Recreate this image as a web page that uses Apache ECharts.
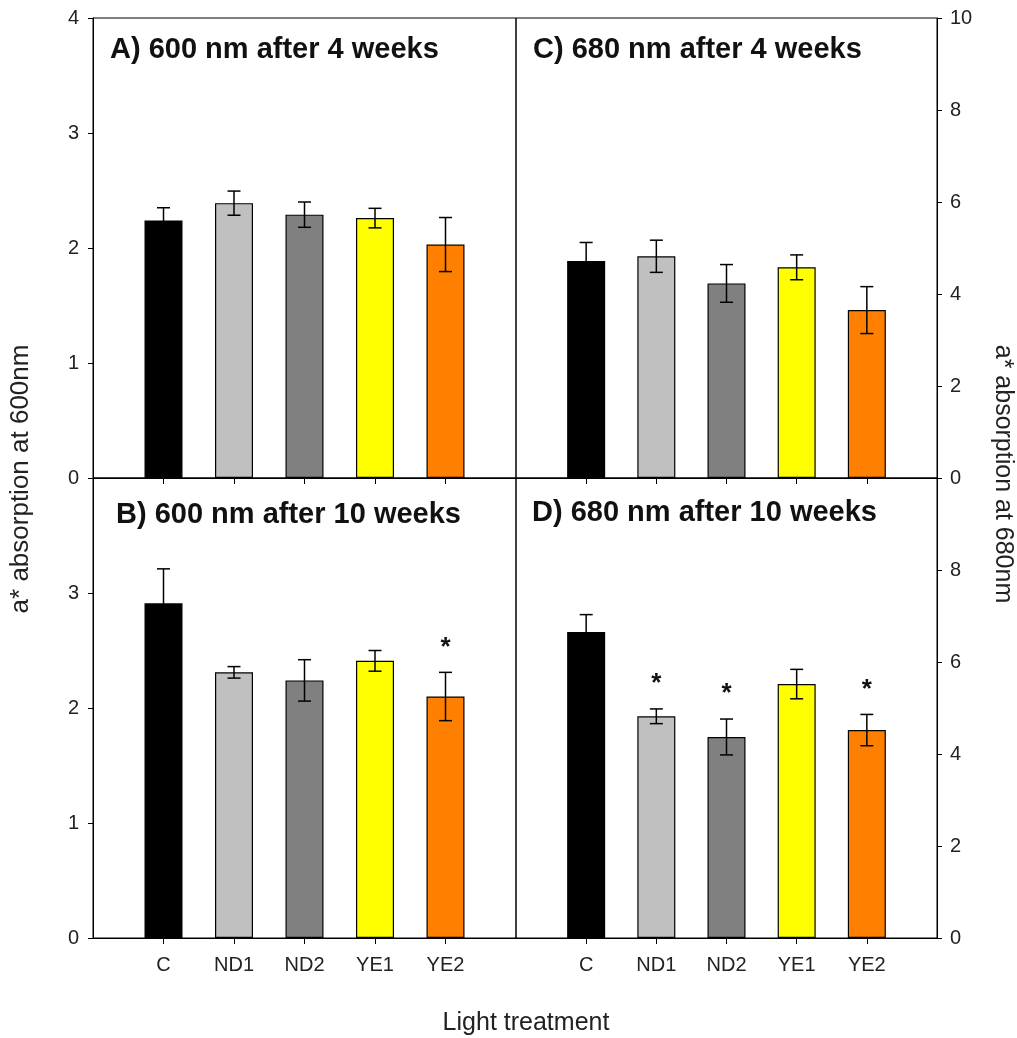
<!DOCTYPE html>
<html>
<head>
<meta charset="utf-8">
<title>a* absorption by light treatment</title>
<script src="https://cdn.jsdelivr.net/npm/echarts@6/dist/echarts.min.js"></script>
<style>
  html, body { margin: 0; padding: 0; background: #ffffff; }
  #chart { width: 1017px; height: 1038px; }
</style>
</head>
<body>
<div id="chart"></div>
<script>
// Light treatments and their bar fills
const categories = ['C', 'ND1', 'ND2', 'YE1', 'YE2'];
const barColors = ['#000000', '#c0c0c0', '#808080', '#ffff00', '#ff8000'];

// a* absorption at 600 nm (means and standard errors)
const abs600Week4 = [2.24, 2.39, 2.29, 2.26, 2.03];
const err600Week4 = [0.11, 0.105, 0.11, 0.085, 0.235];
const abs600Week10 = [2.91, 2.31, 2.24, 2.41, 2.10];
const err600Week10 = [0.30, 0.05, 0.18, 0.09, 0.21];

// a* absorption at 680 nm (means and standard errors)
const abs680Week4 = [4.72, 4.82, 4.23, 4.58, 3.65];
const err680Week4 = [0.40, 0.35, 0.41, 0.27, 0.51];
const abs680Week10 = [6.65, 4.82, 4.37, 5.52, 4.52];
const err680Week10 = [0.38, 0.16, 0.39, 0.32, 0.34];

// Significant difference from the control (1 = marked with *)
const sig600Week4 = [0, 0, 0, 0, 0];
const sig600Week10 = [0, 0, 0, 0, 1];
const sig680Week4 = [0, 0, 0, 0, 0];
const sig680Week10 = [0, 1, 1, 0, 1];

// Tick labels of the two value scales
const ticks600 = [0, 1, 2, 3, 4];
const ticks680 = [0, 2, 4, 6, 8, 10];

const FONT = "'Liberation Sans', Arial, sans-serif";
const TEXT = '#222222';

// Padded category list: an empty slot on each side of the five treatments
const xCats = [''].concat(categories, ['']);

const panels = [
  { title: 'A) 600 nm after 4 weeks',  vals: abs600Week4,  errs: err600Week4,  sig: sig600Week4,  ticks: ticks600, side: 'left',  showX: false, hideTop: false,
    grid: { left: 93, top: 18, width: 423, height: 460 }, titlePos: [110, 50] },
  { title: 'B) 600 nm after 10 weeks', vals: abs600Week10, errs: err600Week10, sig: sig600Week10, ticks: ticks600, side: 'left',  showX: true,  hideTop: true,
    grid: { left: 93, top: 478, width: 423, height: 460 }, titlePos: [116, 515] },
  { title: 'C) 680 nm after 4 weeks',  vals: abs680Week4,  errs: err680Week4,  sig: sig680Week4,  ticks: ticks680, side: 'right', showX: false, hideTop: false,
    grid: { left: 516, top: 18, width: 421, height: 460 }, titlePos: [533, 50] },
  { title: 'D) 680 nm after 10 weeks', vals: abs680Week10, errs: err680Week10, sig: sig680Week10, ticks: ticks680, side: 'right', showX: true,  hideTop: true,
    grid: { left: 516, top: 478, width: 421, height: 460 }, titlePos: [532, 513] }
];

const grids = [], xAxes = [], yAxes = [], series = [], graphics = [];

panels.forEach(function (p, k) {
  grids.push(Object.assign({ show: true, borderColor: '#000', borderWidth: 1, backgroundColor: 'transparent' }, p.grid));

  xAxes.push({
    type: 'category', gridIndex: k, data: xCats, boundaryGap: false,
    axisLine: { show: true, lineStyle: { color: '#000', width: 1 } },
    axisTick: { show: true, inside: false, length: 6, lineStyle: { color: '#000' },
                interval: function (i) { return i > 0 && i < xCats.length - 1; } },
    axisLabel: { show: p.showX, interval: 0, margin: 17, fontFamily: FONT, fontSize: 20, color: TEXT },
    splitLine: { show: false }
  });

  const tmin = p.ticks[0], tmax = p.ticks[p.ticks.length - 1];
  yAxes.push({
    type: 'value', gridIndex: k, position: p.side,
    min: tmin, max: tmax, interval: p.ticks[1] - p.ticks[0],
    axisLine: { show: true, lineStyle: { color: '#000', width: 1 } },
    axisTick: { show: true, inside: false, length: 5, lineStyle: { color: '#000' } },
    axisLabel: {
      margin: p.side === 'left' ? 14 : 13, fontFamily: FONT, fontSize: 20, color: TEXT,
      formatter: function (v) { return (p.hideTop && v === tmax) ? '' : String(v); }
    },
    splitLine: { show: false }
  });

  series.push({
    type: 'bar', xAxisIndex: k, yAxisIndex: k, barWidth: 38,
    data: p.vals.map(function (v, i) {
      return { value: [categories[i], v], itemStyle: { color: barColors[i], borderColor: '#000', borderWidth: 1.2 } };
    }),
    animation: false, silent: true
  });

  // Error bars (mean ± SE) with a significance star above the upper cap
  series.push({
    type: 'custom', xAxisIndex: k, yAxisIndex: k,
    encode: { x: 0, y: 1 },
    data: p.vals.map(function (v, i) { return [categories[i], v, p.errs[i], p.sig[i]]; }),
    renderItem: function (params, api) {
      const x = api.value(0), m = api.value(1), e = api.value(2), s = api.value(3);
      const hi = api.coord([x, m + e]);
      const lo = api.coord([x, m - e]);
      const cap = 6.5;
      const ls = { stroke: '#000', lineWidth: 1.5 };
      const children = [
        { type: 'line', shape: { x1: hi[0], y1: hi[1], x2: lo[0], y2: lo[1] }, style: ls },
        { type: 'line', shape: { x1: hi[0] - cap, y1: hi[1], x2: hi[0] + cap, y2: hi[1] }, style: ls },
        { type: 'line', shape: { x1: lo[0] - cap, y1: lo[1], x2: lo[0] + cap, y2: lo[1] }, style: ls }
      ];
      if (s) {
        children.push({
          type: 'text', x: hi[0], y: hi[1] - 25,
          style: { text: '*', font: 'bold 26px ' + FONT, fill: '#111',
                   align: 'center', verticalAlign: 'middle', textAlign: 'center', textVerticalAlign: 'middle' }
        });
      }
      return { type: 'group', children: children };
    },
    animation: false, silent: true, z: 3
  });

  graphics.push({
    type: 'text', x: p.titlePos[0], y: p.titlePos[1],
    style: { text: p.title, font: 'bold 29px ' + FONT, fill: '#111',
             align: 'left', verticalAlign: 'middle', textAlign: 'left', textVerticalAlign: 'middle' }
  });
});

// Shared axis titles
graphics.push({
  type: 'text', x: 21, y: 479, rotation: Math.PI / 2,
  style: { text: 'a* absorption at 600nm', font: '26px ' + FONT, fill: TEXT,
           align: 'center', verticalAlign: 'middle', textAlign: 'center', textVerticalAlign: 'middle' }
});
graphics.push({
  type: 'text', x: 1003, y: 474, rotation: -Math.PI / 2,
  style: { text: 'a* absorption at 680nm', font: '25px ' + FONT, fill: TEXT,
           align: 'center', verticalAlign: 'middle', textAlign: 'center', textVerticalAlign: 'middle' }
});
graphics.push({
  type: 'text', x: 526, y: 1023,
  style: { text: 'Light treatment', font: '25px ' + FONT, fill: TEXT,
           align: 'center', verticalAlign: 'middle', textAlign: 'center', textVerticalAlign: 'middle' }
});

const chart = echarts.init(document.getElementById('chart'), null, { renderer: 'canvas' });
chart.setOption({
  backgroundColor: '#ffffff',
  animation: false,
  grid: grids,
  xAxis: xAxes,
  yAxis: yAxes,
  series: series,
  graphic: graphics
});
</script>
</body>
</html>
